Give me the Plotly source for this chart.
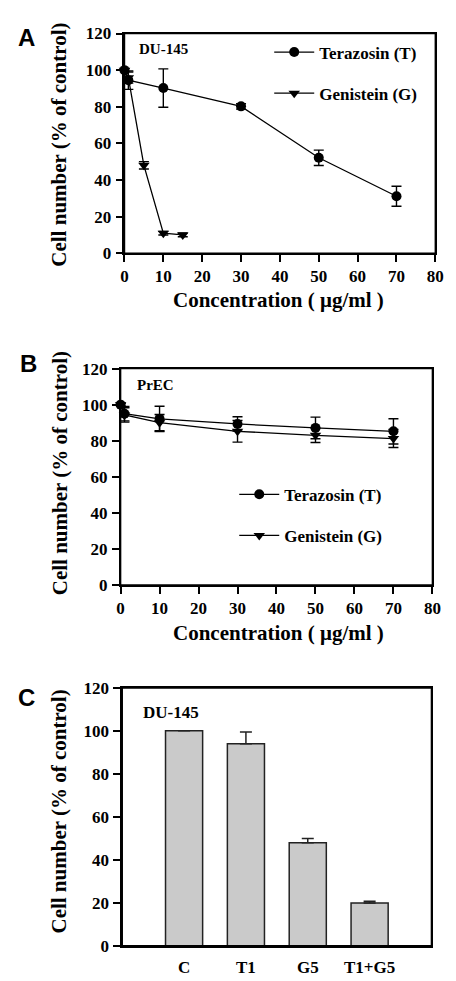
import plotly.graph_objects as go

W, H = 456, 981

# ---- Panel A data (DU-145) ----
a_t_x = [0, 1, 10, 30, 50, 70]
a_t_y = [100, 94.5, 90.2, 80.2, 52.1, 31.1]
a_t_err = [0.8, 5.0, 10.5, 1.5, 4.2, 5.5]
a_g_x = [0, 1, 5, 10, 15]
a_g_y = [100, 95.9, 48.0, 10.9, 10.0]
a_g_err = [0.8, 3.0, 2.0, 1.0, 1.0]

# ---- Panel B data (PrEC) ----
b_t_x = [0, 1, 10, 30, 50, 70]
b_t_y = [100, 95.0, 92.1, 89.3, 87.1, 85.2]
b_t_err = [0.8, 4.0, 7.0, 4.0, 6.0, 7.0]
b_g_x = [0, 1, 10, 30, 50, 70]
b_g_y = [100, 94.3, 90.0, 85.2, 83.0, 81.2]
b_g_err = [0.8, 4.0, 4.5, 6.0, 4.0, 5.0]

# ---- Panel C data ----
c_cats = ["C", "T1", "G5", "T1+G5"]
c_vals = [100, 94.0, 47.9, 19.9]
c_err = [0, 5.5, 2.0, 0.8]

x_ticks = [0, 10, 20, 30, 40, 50, 60, 70, 80]
y_ticks = [0, 20, 40, 60, 80, 100, 120]

SERIF = "Liberation Serif"
SANS = "Liberation Sans"
tickfont = dict(family=SERIF, size=17, color="black", weight="bold")

def px_x(p):
    return p / W

def px_y(p):
    return 1 - p / H

fig = go.Figure()

def line_trace(x, y, err, name, symbol, xa, ya, legend):
    return go.Scatter(
        x=x, y=y, name=name, mode="lines+markers",
        xaxis=xa, yaxis=ya, legend=legend, showlegend=True,
        legendgroup=name + legend,
        line=dict(color="black", width=1.3),
        marker=dict(symbol=symbol, size=10, color="black"),
        error_y=dict(type="data", array=err, color="black", thickness=1.4, width=5),
        cliponaxis=False,
    )

fig.add_trace(line_trace(a_t_x, a_t_y, a_t_err, "Terazosin (T)", "circle", "x", "y", "legend"))
fig.add_trace(line_trace(a_g_x, a_g_y, a_g_err, "Genistein (G)", "triangle-down", "x", "y", "legend"))
fig.add_trace(line_trace(b_t_x, b_t_y, b_t_err, "Terazosin (T)", "circle", "x2", "y2", "legend2"))
fig.add_trace(line_trace(b_g_x, b_g_y, b_g_err, "Genistein (G)", "triangle-down", "x2", "y2", "legend2"))

fig.add_trace(go.Bar(
    x=c_cats, y=c_vals, xaxis="x3", yaxis="y3", showlegend=False, width=0.6,
    marker=dict(color="#cacaca", line=dict(color="#222222", width=1.5)),
    error_y=dict(type="data", symmetric=False, array=c_err, arrayminus=[0] * 4,
                 color="#222222", thickness=1.5, width=6),
))

def xax(dom_px, anchor, **kw):
    d = dict(domain=[px_x(dom_px[0]), px_x(dom_px[1])], anchor=anchor,
             showline=True, linecolor="black", linewidth=1.5, mirror=True,
             showgrid=False, zeroline=False, tickfont=tickfont)
    d.update(kw)
    return d

def yax(dom_px, anchor, **kw):
    d = dict(domain=[px_y(dom_px[1]), px_y(dom_px[0])], anchor=anchor,
             range=[0, 120], tickvals=y_ticks, ticks="outside", ticklen=7,
             tickwidth=1.5, tickcolor="black",
             showline=True, linecolor="black", linewidth=1.5, mirror=True,
             showgrid=False, zeroline=False, tickfont=tickfont, ticklabelstandoff=1)
    d.update(kw)
    return d

xa_common = dict(range=[0, 80], tickvals=x_ticks, ticks="outside", ticklen=7,
                 tickwidth=1.5, tickcolor="black", ticklabelstandoff=0)

legend_common = dict(font=dict(family=SERIF, size=17, color="black", weight="bold"),
                     bgcolor="rgba(0,0,0,0)", borderwidth=0, tracegroupgap=16,
                     traceorder="grouped", xanchor="left", yanchor="top", itemwidth=40)

fig.update_layout(
    width=W, height=H, margin=dict(l=0, r=0, t=0, b=0),
    paper_bgcolor="white", plot_bgcolor="white",
    xaxis=xax((124, 444), "y", **xa_common),
    yaxis=yax((25, 249), "x"),
    xaxis2=xax((120, 441), "y2", **xa_common),
    yaxis2=yax((366.7, 587.3), "x2"),
    xaxis3=xax((121.7, 440), "y3", type="category", range=[-1, 4], ticks="",
               ticklabelstandoff=5),
    yaxis3=yax((692.3, 955.3), "x3"),
    legend=dict(x=px_x(273), y=px_y(26), **legend_common),
    legend2=dict(x=px_x(237), y=px_y(477), **legend_common),
    bargap=0.4,
)

# plot frames (box around each panel)
for xr, yr in (("x", "y"), ("x2", "y2"), ("x3", "y3")):
    fig.add_shape(type="rect", xref=xr + " domain", yref=yr + " domain",
                  x0=0, x1=1, y0=0, y1=1, line=dict(color="black", width=1.5),
                  layer="above")

ann_font = dict(family=SERIF, color="black", weight="bold")
xtitle = "Concentration ( \u03bcg/ml )"
ytitle = "Cell number (% of control)"
letter_font = dict(family=SANS, size=24, color="black", weight="bold")
anns = [
    dict(text="A", x=px_x(23), y=px_y(29), font=letter_font),
    dict(text="B", x=px_x(25), y=px_y(362), font=letter_font),
    dict(text="C", x=px_x(23), y=px_y(702), font=letter_font),
    dict(text="DU-145", x=px_x(164), y=px_y(41), font=dict(size=15, **ann_font)),
    dict(text="PrEC", x=px_x(156), y=px_y(383), font=dict(size=15, **ann_font)),
    dict(text="DU-145", x=px_x(172), y=px_y(717), font=dict(size=17, **ann_font)),
    dict(text=xtitle, x=px_x(283), y=px_y(297), font=dict(size=21, **ann_font)),
    dict(text=xtitle, x=px_x(283), y=px_y(636), font=dict(size=21, **ann_font)),
    dict(text=ytitle, x=px_x(57), y=px_y(138), textangle=-90, font=dict(size=21, **ann_font)),
    dict(text=ytitle, x=px_x(57), y=px_y(473), textangle=-90, font=dict(size=21, **ann_font)),
    dict(text=ytitle, x=px_x(57), y=px_y(818), textangle=-90, font=dict(size=21, **ann_font)),
]
for a in anns:
    a.update(xref="paper", yref="paper", showarrow=False, xanchor="center", yanchor="middle")
fig.update_layout(annotations=anns)

fig.write_html(
    "out.html",
    config={"displayModeBar": False},
    post_script="document.body.style.margin='0';document.body.style.overflow='hidden';",
)
